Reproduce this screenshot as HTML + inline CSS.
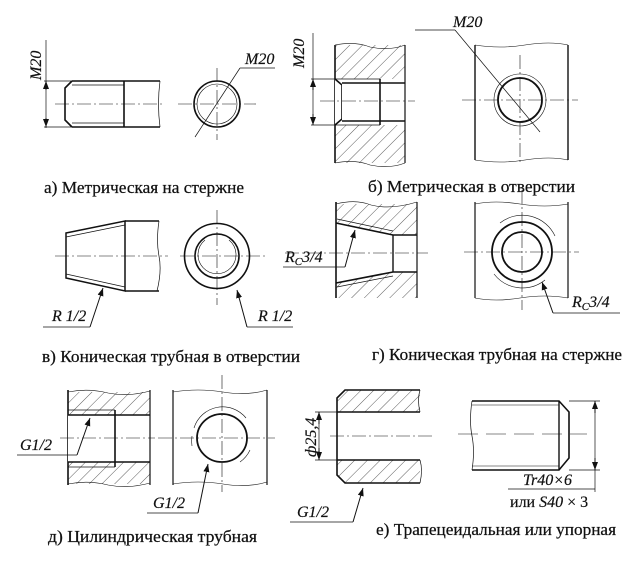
<!DOCTYPE html>
<html><head><meta charset="utf-8"><style>
html,body{margin:0;padding:0;background:#fff}
svg{display:block}
text{font-family:"Liberation Serif",serif;fill:#111}
.c{font-size:17px;stroke:#111;stroke-width:0.25}
.i{font-style:italic;font-size:16px;stroke:#111;stroke-width:0.2}
</style></head><body>
<svg width="640" height="570" viewBox="0 0 640 570" xmlns="http://www.w3.org/2000/svg">
<defs>
<pattern id="h" patternUnits="userSpaceOnUse" width="9" height="9" patternTransform="rotate(45)">
<line x1="0" y1="0" x2="0" y2="9" stroke="#333" stroke-width="0.8"/>
</pattern>
<marker id="a" markerWidth="8" markerHeight="6" refX="8" refY="3" orient="auto"><path d="M0,0L8,3L0,6z" fill="#111"/></marker>
</defs>
<g stroke="#111" fill="none" stroke-width="1">
<!-- a -->
<line x1="46" y1="40" x2="46" y2="128" stroke-width="0.7"/>
<line x1="46" y1="90" x2="46" y2="81" marker-end="url(#a)"/>
<line x1="46" y1="118" x2="46" y2="127" marker-end="url(#a)"/>
<line x1="44" y1="81" x2="72" y2="81" stroke-width="0.7"/>
<line x1="44" y1="127" x2="72" y2="127" stroke-width="0.7"/>
<path d="M72,81 L160,81 M72,127 L160,127 M72,81 L65,88 L65,120 L72,127" stroke-width="1.6"/>
<line x1="124" y1="81" x2="124" y2="127" stroke-width="1.6"/>
<line x1="72" y1="85" x2="124" y2="85" stroke-width="0.7"/>
<line x1="72" y1="123" x2="124" y2="123" stroke-width="0.7"/>
<path d="M160,81 q-3,23 0,46" stroke-width="0.7"/>
<line x1="55" y1="104" x2="165" y2="104" stroke-width="0.6" stroke-dasharray="14,3,2,3"/>
<circle cx="217" cy="104" r="23" stroke-width="1.6"/>
<circle cx="217" cy="104" r="20" stroke-width="0.6"/>
<line x1="178" y1="104" x2="256" y2="104" stroke-width="0.6" stroke-dasharray="14,3,2,3"/>
<line x1="217" y1="68" x2="217" y2="140" stroke-width="0.6" stroke-dasharray="14,3,2,3"/>
<line x1="195" y1="137" x2="240" y2="68" stroke-width="0.7"/>
<line x1="240" y1="68" x2="275" y2="68" stroke-width="0.7"/>
<!-- b left -->
<rect x="335" y="45" width="70" height="34" fill="url(#h)" stroke="none"/>
<rect x="335" y="125" width="70" height="38" fill="url(#h)" stroke="none"/>
<line x1="335" y1="45" x2="335" y2="163" stroke-width="1.6"/>
<line x1="405" y1="45" x2="405" y2="163" stroke-width="1.2"/>
<path d="M335,45 q20,-4 35,2 q20,4 35,-2 M335,163 q20,-4 35,2 q20,4 35,-2" stroke-width="0.6"/>
<path d="M335,79 L342,85 L342,119 L335,125" stroke-width="1.6" fill="#fff"/>
<rect x="342" y="83" width="38" height="38" fill="#fff" stroke="none"/>
<line x1="342" y1="83" x2="405" y2="83" stroke-width="1.6"/>
<line x1="342" y1="121" x2="405" y2="121" stroke-width="1.6"/>
<line x1="380" y1="79" x2="380" y2="125" stroke-width="1.6"/>
<line x1="335" y1="79" x2="380" y2="79" stroke-width="0.7"/>
<line x1="335" y1="125" x2="380" y2="125" stroke-width="0.7"/>
<line x1="313" y1="33" x2="313" y2="125" stroke-width="0.7"/>
<line x1="313" y1="90" x2="313" y2="79" marker-end="url(#a)"/>
<line x1="313" y1="114" x2="313" y2="125" marker-end="url(#a)"/>
<line x1="311" y1="79" x2="335" y2="79" stroke-width="0.7"/>
<line x1="311" y1="125" x2="335" y2="125" stroke-width="0.7"/>
<line x1="320" y1="101" x2="415" y2="101" stroke-width="0.6" stroke-dasharray="14,3,2,3"/>
<!-- b right -->
<line x1="475" y1="45" x2="475" y2="160" stroke-width="1.4"/>
<line x1="568" y1="45" x2="568" y2="160" stroke-width="1.4"/>
<path d="M475,45 q25,4 50,0 q25,-4 43,0 M475,160 q25,4 50,0 q25,-4 43,0" stroke-width="0.6"/>
<circle cx="520" cy="100" r="22" stroke-width="1.8"/>
<circle cx="520" cy="100" r="26" stroke-width="0.6"/>
<line x1="462" y1="100" x2="578" y2="100" stroke-width="0.6" stroke-dasharray="14,3,2,3"/>
<line x1="520" y1="55" x2="520" y2="165" stroke-width="0.6" stroke-dasharray="14,3,2,3"/>
<line x1="455" y1="30" x2="540" y2="132" stroke-width="0.7"/>
<line x1="455" y1="30" x2="415" y2="30" stroke-width="0.7"/>
<!-- v -->
<path d="M66,233 L125,221 L125,291 L66,278 Z" stroke-width="1.5"/>
<line x1="66" y1="237" x2="125" y2="225" stroke-width="0.7"/>
<line x1="66" y1="274" x2="125" y2="287" stroke-width="0.7"/>
<line x1="125" y1="221" x2="159" y2="221" stroke-width="1.5"/>
<line x1="125" y1="291" x2="159" y2="291" stroke-width="1.5"/>
<path d="M159,221 q-3,20 0,35 q3,15 -2,35" stroke-width="0.7"/>
<line x1="55" y1="256" x2="168" y2="256" stroke-width="0.6" stroke-dasharray="14,3,2,3"/>
<line x1="43" y1="327" x2="90" y2="327" stroke-width="0.7"/>
<line x1="90" y1="327" x2="103" y2="288" marker-end="url(#a)"/>
<circle cx="217" cy="256" r="32.5" stroke-width="1.6"/>
<circle cx="217" cy="256" r="22" stroke-width="1.6"/>
<path d="M205,240 a19,19 0 1,0 24,0" stroke-width="0.6"/>
<line x1="180" y1="256" x2="268" y2="256" stroke-width="0.6" stroke-dasharray="14,3,2,3"/>
<line x1="217" y1="210" x2="217" y2="305" stroke-width="0.6" stroke-dasharray="14,3,2,3"/>
<line x1="293" y1="327" x2="247" y2="327" stroke-width="0.7"/>
<line x1="247" y1="327" x2="237" y2="290" marker-end="url(#a)"/>
<!-- g left -->
<path d="M336,204 L417,204 L417,235 L393,235 L336,223 Z" fill="url(#h)" stroke="none"/>
<path d="M336,283 L393,272 L417,272 L417,298 L336,298 Z" fill="url(#h)" stroke="none"/>
<line x1="336" y1="202" x2="336" y2="298" stroke-width="1.6"/>
<line x1="417" y1="202" x2="417" y2="298" stroke-width="1.2"/>
<path d="M336,204 q20,-5 35,1 q20,5 46,-3" stroke-width="0.6"/>
<path d="M336,223 L393,235 L417,235 M336,283 L393,272 L417,272" stroke-width="1.6"/>
<line x1="393" y1="235" x2="393" y2="272" stroke-width="1.4"/>
<line x1="337" y1="219" x2="393" y2="231" stroke-width="0.7"/>
<line x1="337" y1="287" x2="393" y2="276" stroke-width="0.7"/>
<line x1="285" y1="253" x2="428" y2="253" stroke-width="0.6" stroke-dasharray="14,3,2,3"/>
<line x1="283" y1="267" x2="345" y2="267" stroke-width="0.7"/>
<line x1="345" y1="267" x2="355" y2="230" marker-end="url(#a)"/>
<!-- g right -->
<line x1="475" y1="202" x2="475" y2="298" stroke-width="1.2"/>
<line x1="568" y1="202" x2="568" y2="298" stroke-width="1.2"/>
<path d="M475,204 q20,-4 45,0 q25,4 48,0 M475,298 q20,4 45,0 q25,-4 48,0" stroke-width="0.6"/>
<circle cx="522" cy="252" r="30" stroke-width="1.8"/>
<circle cx="522" cy="252" r="20" stroke-width="1.8"/>
<path d="M500,223 A36,36 0 0,1 555,236 M494,274 A36,36 0 0,0 545,280" stroke-width="0.6"/>
<line x1="464" y1="252" x2="579" y2="252" stroke-width="0.6" stroke-dasharray="14,3,2,3"/>
<line x1="522" y1="190" x2="522" y2="310" stroke-width="0.6" stroke-dasharray="14,3,2,3"/>
<line x1="620" y1="313" x2="553" y2="313" stroke-width="0.7"/>
<line x1="553" y1="313" x2="542" y2="282" marker-end="url(#a)"/>
<!-- d left -->
<rect x="68" y="392" width="82" height="23" fill="url(#h)" stroke="none"/>
<rect x="68" y="462" width="82" height="22" fill="url(#h)" stroke="none"/>
<line x1="68" y1="390" x2="68" y2="485" stroke-width="1.6"/>
<line x1="150" y1="390" x2="150" y2="485" stroke-width="1.2"/>
<path d="M68,392 q20,-4 40,1 q20,4 42,-2 M68,484 q20,-4 40,1 q20,4 42,-2" stroke-width="0.6"/>
<rect x="68" y="415" width="47" height="47" fill="#fff" stroke="none"/>
<line x1="68" y1="415" x2="150" y2="415" stroke-width="1.6"/>
<line x1="68" y1="462" x2="150" y2="462" stroke-width="1.6"/>
<line x1="115" y1="410" x2="115" y2="467" stroke-width="1.6"/>
<line x1="68" y1="410" x2="115" y2="410" stroke-width="0.7"/>
<line x1="68" y1="467" x2="115" y2="467" stroke-width="0.7"/>
<line x1="60" y1="438" x2="155" y2="438" stroke-width="0.6" stroke-dasharray="14,3,2,3"/>
<line x1="17" y1="455" x2="77" y2="455" stroke-width="0.7"/>
<line x1="77" y1="455" x2="90" y2="418" marker-end="url(#a)"/>
<!-- d right -->
<line x1="173" y1="390" x2="173" y2="485" stroke-width="1.2"/>
<line x1="267" y1="390" x2="267" y2="485" stroke-width="1.2"/>
<path d="M173,392 q25,-4 50,0 q25,4 44,-2 M173,484 q25,-4 50,0 q25,4 44,-2" stroke-width="0.6"/>
<ellipse cx="222" cy="438" rx="25" ry="24" stroke-width="1.8"/>
<path d="M194,428 A30,30 0 0,1 246,418 M192,446 A30,30 0 0,1 192,436 M250,450 A30,30 0 0,1 240,462" stroke-width="0.6"/>
<line x1="158" y1="438" x2="275" y2="438" stroke-width="0.6" stroke-dasharray="14,3,2,3"/>
<line x1="222" y1="375" x2="222" y2="492" stroke-width="0.6" stroke-dasharray="14,3,2,3"/>
<line x1="147" y1="513" x2="198" y2="513" stroke-width="0.7"/>
<line x1="198" y1="513" x2="208" y2="464" marker-end="url(#a)"/>
<!-- e left -->
<path d="M345,390 L420,390 L420,412 L337,412 L337,398 Z" fill="url(#h)" stroke="none"/>
<path d="M337,460 L420,460 L420,483 L345,483 L337,475 Z" fill="url(#h)" stroke="none"/>
<path d="M420,390 L345,390 L337,398 L337,475 L345,483 L420,483" stroke-width="1.6"/>
<path d="M420,390 q-3,10 0,22 M420,460 q3,10 0,23" stroke-width="0.7"/>
<line x1="337" y1="412" x2="420" y2="412" stroke-width="1.6"/>
<line x1="337" y1="460" x2="420" y2="460" stroke-width="1.6"/>
<line x1="315" y1="412" x2="337" y2="412" stroke-width="0.7"/>
<line x1="315" y1="460" x2="337" y2="460" stroke-width="0.7"/>
<line x1="319" y1="412" x2="319" y2="460" stroke-width="0.7"/>
<line x1="319" y1="424" x2="319" y2="412" marker-end="url(#a)"/>
<line x1="319" y1="448" x2="319" y2="460" marker-end="url(#a)"/>
<line x1="330" y1="436" x2="432" y2="436" stroke-width="0.6" stroke-dasharray="14,3,2,3"/>
<line x1="290" y1="522" x2="353" y2="522" stroke-width="0.7"/>
<line x1="353" y1="522" x2="363" y2="488" marker-end="url(#a)"/>
<!-- e right -->
<path d="M472,401 L559,401 L569,412 L569,458 L559,470 L472,470" stroke-width="1.6"/>
<line x1="559" y1="401" x2="559" y2="470" stroke-width="1.4"/>
<line x1="472" y1="405" x2="559" y2="405" stroke-width="0.6"/>
<line x1="472" y1="466" x2="559" y2="466" stroke-width="0.6"/>
<path d="M472,401 q-3,20 0,35 q3,15 0,34" stroke-width="0.7"/>
<line x1="458" y1="434" x2="587" y2="434" stroke-width="0.6" stroke-dasharray="20,8"/>
<line x1="569" y1="401" x2="600" y2="401" stroke-width="0.7"/>
<line x1="569" y1="470" x2="600" y2="470" stroke-width="0.7"/>
<line x1="595" y1="401" x2="595" y2="492" stroke-width="0.7"/>
<line x1="595" y1="413" x2="595" y2="401" marker-end="url(#a)"/>
<line x1="595" y1="458" x2="595" y2="470" marker-end="url(#a)"/>
<line x1="508" y1="489" x2="595" y2="489" stroke-width="0.7"/>
</g>
<g>
<text class="i" transform="translate(41,80) rotate(-90)">M20</text>
<text class="i" x="245" y="64">M20</text>
<text class="i" transform="translate(304,68) rotate(-90)">M20</text>
<text class="i" x="453" y="27">M20</text>
<text class="i" x="52" y="321">R 1/2</text>
<text class="i" x="258" y="321">R 1/2</text>
<text class="i" x="285" y="262">R<tspan font-size="11" dy="3">C</tspan><tspan dy="-3">3/4</tspan></text>
<text class="i" x="572" y="307">R<tspan font-size="11" dy="3">C</tspan><tspan dy="-3">3/4</tspan></text>
<text class="i" x="20" y="450">G1/2</text>
<text class="i" x="153" y="508">G1/2</text>
<text class="i" transform="translate(316,457) rotate(-90)">ф25,4</text>
<text class="i" x="297" y="517">G1/2</text>
<text class="i" x="523" y="485">Tr40×6</text>
<text x="510" y="507" font-size="16" stroke="#111" stroke-width="0.2">или <tspan font-style="italic">S40</tspan> × 3</text>
<text class="c" x="44" y="193" textLength="200" lengthAdjust="spacingAndGlyphs">а) Метрическая на стержне</text>
<text class="c" x="368" y="192" textLength="207" lengthAdjust="spacingAndGlyphs">б) Метрическая в отверстии</text>
<text class="c" x="42" y="362" textLength="258" lengthAdjust="spacingAndGlyphs">в) Коническая трубная в отверстии</text>
<text class="c" x="372" y="360" textLength="250" lengthAdjust="spacingAndGlyphs">г) Коническая трубная на стержне</text>
<text class="c" x="48" y="542" textLength="209" lengthAdjust="spacingAndGlyphs">д) Цилиндрическая трубная</text>
<text class="c" x="376" y="535" textLength="240" lengthAdjust="spacingAndGlyphs">е) Трапецеидальная или упорная</text>
</g>
</svg>
</body></html>
